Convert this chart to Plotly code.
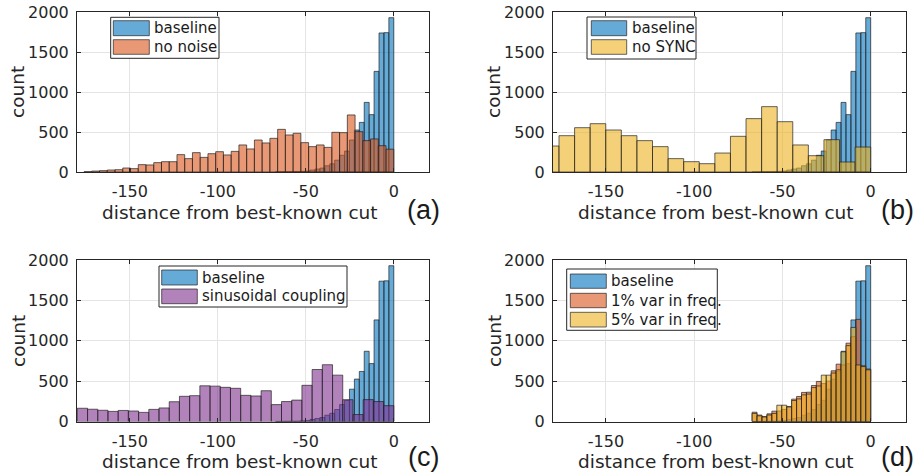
import numpy as np
import plotly.graph_objects as go

# ---------------- data (histogram counts, left -> right) ----------------
# baseline: bins of width 2.8 ending at 0
baseline_edge0 = -67.2
baseline_width = 2.8
baseline_counts = [1, 2, 3, 4, 5, 8, 12, 25, 37, 49, 78, 102, 148, 209, 262,
                   400, 525, 620, 870, 717, 1258, 1738, 1742, 1929]

# (a) no noise: bins of width 4.4 from -176 to 0
nonoise_edge0 = -176.0
nonoise_width = 4.4
nonoise_counts = [4, 12, 17, 25, 29, 50, 42, 92, 88, 117, 129, 129, 217, 167,
                  242, 183, 229, 254, 213, 258, 338, 288, 400, 363, 421, 533,
                  463, 484, 367, 317, 338, 308, 496, 492, 713, 505, 392, 413,
                  329, 285]

# (b) no SYNC: bins of width 8.83 ending at 0
nosync_edge0 = -185.43
nosync_width = 8.83
nosync_counts = [325, 454, 554, 604, 525, 454, 392, 317, 167, 129, 104, 237,
                 446, 667, 817, 629, 338, 204, 404, 125, 312]

# (c) sinusoidal coupling: bins of width 5.8 from -180 to 0
sinus_edge0 = -179.8
sinus_width = 5.8
sinus_counts = [164, 152, 139, 125, 137, 130, 113, 150, 168, 245, 312, 320,
                442, 438, 423, 411, 324, 316, 381, 209, 247, 265, 448, 644,
                703, 574, 270, 86, 271, 247, 196]

# (d) frequency variation: bins of width 2.8 ending at 0
freq_edge0 = -67.2
freq_width = 2.8
var1_counts = [115, 80, 62, 95, 128, 130, 150, 186, 277, 310, 360, 363, 446,
               496, 470, 500, 628, 710, 700, 970, 1050, 1265, 690, 650]
var5_counts = [100, 70, 55, 80, 100, 202, 202, 180, 260, 280, 330, 340, 420,
               440, 574, 574, 600, 640, 863, 940, 1165, 700, 680, 640]

x_tickvals = [-150, -100, -50, 0]
x_ticktext = ["-150", "-100", "-50", "0"]
y_tickvals = [0, 500, 1000, 1500, 2000]
x_range = [-180, 20]
y_range = [0, 2000]

panel_labels = ["(a)", "(b)", "(c)", "(d)"]
x_title = "distance from best-known cut"
y_title = "count"

# ---------------- styling ----------------
W, H = 924, 476
FONT = "DejaVu Sans"
TXT = "#262626"
EDGE_C = "rgba(30,30,30,0.85)"
EDGE = dict(color=EDGE_C, width=0.8)
C_BLUE = "rgba(0,114,189,0.6)"
C_ORANGE = "rgba(217,83,25,0.6)"
C_YELLOW = "rgba(237,177,32,0.6)"
C_PURPLE = "rgba(126,47,142,0.6)"


def centers(edge0, width, counts):
    return edge0 + width * (np.arange(len(counts)) + 0.5)


def hist(name, edge0, width, counts, color, ax):
    return go.Bar(
        x=centers(edge0, width, counts), y=counts, width=width, name=name,
        marker=dict(color=color, line=EDGE), xaxis="x" + ax, yaxis="y" + ax,
        showlegend=False, hoverinfo="x+y",
    )


panels = [
    ("", [("baseline", baseline_edge0, baseline_width, baseline_counts, C_BLUE),
          ("no noise", nonoise_edge0, nonoise_width, nonoise_counts, C_ORANGE)]),
    ("2", [("baseline", baseline_edge0, baseline_width, baseline_counts, C_BLUE),
           ("no SYNC", nosync_edge0, nosync_width, nosync_counts, C_YELLOW)]),
    ("3", [("baseline", baseline_edge0, baseline_width, baseline_counts, C_BLUE),
           ("sinusoidal coupling", sinus_edge0, sinus_width, sinus_counts, C_PURPLE)]),
    ("4", [("baseline", baseline_edge0, baseline_width, baseline_counts, C_BLUE),
           ("1% var in freq.", freq_edge0, freq_width, var1_counts, C_ORANGE),
           ("5% var in freq.", freq_edge0, freq_width, var5_counts, C_YELLOW)]),
]

fig = go.Figure()
for ax, series in panels:
    for name, e0, w, c, col in series:
        fig.add_trace(hist(name, e0, w, c, col, ax))

# panel pixel boxes: (left, right, top, bottom)
boxes = [(77, 429, 12, 172), (553, 906, 12, 172),
         (77, 429, 260, 421.5), (553, 906, 260, 421.5)]

common_axis = dict(
    showline=True, linecolor=TXT, linewidth=1, mirror="ticks",
    ticks="inside", ticklen=4, tickcolor=TXT, tickwidth=1,
    showgrid=True, gridcolor="#e4e4e4", gridwidth=1, zeroline=False,
    tickfont=dict(family=FONT, size=16, color=TXT), automargin=False,
)

layout = dict(
    width=W, height=H, margin=dict(l=0, r=0, t=0, b=0, pad=0, autoexpand=False),
    paper_bgcolor="white", plot_bgcolor="white", barmode="overlay",
    font=dict(family=FONT, color=TXT), showlegend=False,
)

for i, (l, r, t, b) in enumerate(boxes):
    sfx = "" if i == 0 else str(i + 1)
    layout["xaxis" + sfx] = dict(
        common_axis, domain=[l / W, r / W], range=x_range,
        tickvals=x_tickvals, ticktext=x_ticktext, anchor="y" + sfx,
        ticklabelstandoff=5,
    )
    layout["yaxis" + sfx] = dict(
        common_axis, domain=[1 - b / H, 1 - t / H], range=y_range,
        tickvals=y_tickvals, anchor="x" + sfx, ticklabelstandoff=4,
    )

fig.update_layout(**layout)


def px(x):
    return x / W


def py(y):
    return 1 - y / H


# MATLAB-style legends (box, wide swatches, labels)
legend_boxes = [(110.7, 219, 17.3, 58.3), (587, 696, 17, 59),
                (159, 347, 266, 307), (566.7, 717.3, 269, 330.3)]
legend_swatch_x = [(113.3, 149.3), (591.3, 626.7), (161.7, 197.3), (570.3, 606.3)]
legend_rows = [[(20.7, 35.7), (39.7, 54.3)], [(20.7, 35.7), (39.7, 54.3)],
               [(270, 285), (289, 303.7)],
               [(274, 288.3), (293.3, 307.7), (312.3, 327)]]
shapes = []
for i, (ax, series) in enumerate(panels):
    l, r, t, b = legend_boxes[i]
    shapes.append(dict(type="rect", xref="paper", yref="paper", x0=px(l), x1=px(r),
                       y0=py(b), y1=py(t), fillcolor="white",
                       line=dict(color=TXT, width=1), layer="above"))
    sx0, sx1 = legend_swatch_x[i]
    for (name, e0, w, c, col), (ry0, ry1) in zip(series, legend_rows[i]):
        shapes.append(dict(type="rect", xref="paper", yref="paper", x0=px(sx0), x1=px(sx1),
                           y0=py(ry1), y1=py(ry0), fillcolor=col,
                           line=dict(color=EDGE_C, width=0.8), layer="above"))
        fig.add_annotation(text=name, x=px(sx1 + 3), y=py((ry0 + ry1) / 2),
                           xref="paper", yref="paper", showarrow=False,
                           xanchor="left", yanchor="middle",
                           font=dict(family=FONT, size=15, color="#1a1a1a"))
fig.update_layout(shapes=shapes)

# axis titles & panel labels
xt_centers = [(240, 213), (716, 213), (240, 461), (716, 461)]
yt_centers = [(18, 92), (494, 92), (18, 341), (494, 341)]
lab_centers = [(423, 210), (897, 210), (423, 457), (897, 457)]
for i in range(4):
    xc, yc = xt_centers[i]
    fig.add_annotation(text=x_title, x=px(xc), y=py(yc), xref="paper", yref="paper",
                       showarrow=False, xanchor="center", yanchor="middle",
                       font=dict(family=FONT, size=18.5, color=TXT))
    xc, yc = yt_centers[i]
    fig.add_annotation(text=y_title, x=px(xc), y=py(yc), xref="paper", yref="paper",
                       showarrow=False, xanchor="center", yanchor="middle", textangle=-90,
                       font=dict(family=FONT, size=18.5, color=TXT))
    xc, yc = lab_centers[i]
    fig.add_annotation(text=panel_labels[i], x=px(xc), y=py(yc), xref="paper", yref="paper",
                       showarrow=False, xanchor="center", yanchor="middle",
                       font=dict(family="Liberation Sans", size=27, color="#1a1a1a"))

fig.write_html("out.html", config={"displayModeBar": False},
               post_script="document.body.style.margin='0px';"
                           "document.documentElement.style.overflow='hidden';")
